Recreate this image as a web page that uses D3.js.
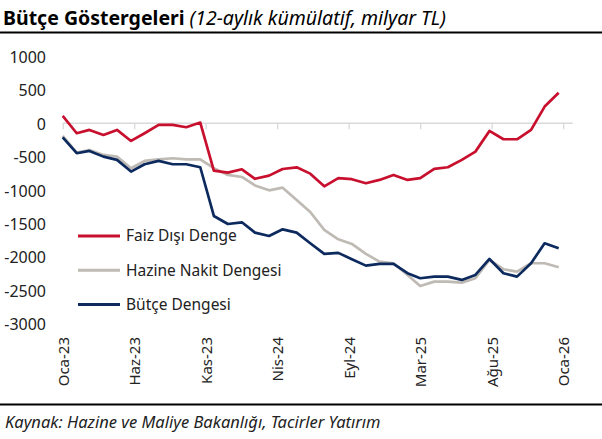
<!DOCTYPE html>
<html><head><meta charset="utf-8">
<script src="https://cdn.jsdelivr.net/npm/d3@7"></script>
<style>
html,body{margin:0;padding:0;background:#fff;}
svg{display:block;font-family:"Noto Sans","Open Sans",sans-serif;}
</style></head>
<body><svg id="c" width="602" height="439"></svg>
<script>
// ---- data ----
const startMonth = new Date(2023, 0, 1);
const endMonth = new Date(2026, 0, 1);
const faizDisiDenge = [110,-150,-100,-175,-100,-265,-150,-25,-25,-60,10,-710,-740,-690,-832,-785,-685,-660,-755,-945,-822,-838,-898,-849,-774,-849,-823,-684,-659,-549,-425,-115,-240,-240,-100,250,458];
const hazineNakitDengesi = [-190,-440,-400,-475,-500,-674,-565,-540,-524,-540,-540,-674,-774,-805,-932,-1005,-965,-1149,-1330,-1598,-1738,-1808,-1958,-2073,-2097,-2273,-2437,-2373,-2373,-2388,-2322,-2048,-2187,-2223,-2097,-2097,-2157];
const butceDengesi = [-210,-449,-414,-500,-549,-724,-614,-564,-614,-614,-659,-1389,-1509,-1484,-1639,-1689,-1589,-1639,-1798,-1958,-1942,-2037,-2133,-2108,-2108,-2247,-2322,-2298,-2298,-2347,-2272,-2033,-2247,-2298,-2097,-1798,-1873];
const seriesNames = ["Faiz Dışı Denge","Hazine Nakit Dengesi","Bütçe Dengesi"];
const seriesColors = ["#c8102e","#bfbab4","#0d2a5e"];
const yTicks = [1000,500,0,-500,-1000,-1500,-2000,-2500,-3000];
const xTickLabels = ["Oca-23","Haz-23","Kas-23","Nis-24","Eyl-24","Mar-25","Ağu-25","Oca-26"];
const xTickStepDays = 158;

const dates = d3.timeMonth.range(startMonth, d3.timeMonth.offset(endMonth,1));
const allSeries = [faizDisiDenge, hazineNakitDengesi, butceDengesi];

const svg = d3.select("#c");
svg.append("rect").attr("width",602).attr("height",439).attr("fill","#fff");

const x = d3.scaleTime().domain([startMonth, d3.timeMonth.offset(endMonth,1)]).range([62.7, 572.7]);
const y = d3.scaleLinear().domain([-3000, 1000]).range([323.5, 56.5]);
const tickDates = xTickLabels.map((_,k)=>d3.timeDay.offset(startMonth, xTickStepDays*k));

// title
const title = svg.append("text").attr("x",3).attr("y",25).attr("font-size",19.5).attr("fill","#000");
title.append("tspan").attr("font-weight","bold").text("Bütçe Göstergeleri");
title.append("tspan").attr("font-style","italic").attr("dx",5).text("(12-aylık kümülatif, milyar TL)");
svg.append("line").attr("x1",0).attr("x2",602).attr("y1",32.5).attr("y2",32.5).attr("stroke","#000").attr("stroke-width",2);

// y labels
svg.append("g").selectAll("text").data(yTicks).join("text")
  .attr("x",46).attr("y",d=>y(d)+1).attr("dy","0.35em").attr("text-anchor","end")
  .attr("font-size",16).attr("fill","#222").text(d=>d);

// x axis at zero
const xAxis = d3.axisBottom(x).tickValues(tickDates).tickSize(6).tickFormat("");
const gx = svg.append("g").attr("transform",`translate(0,${y(0)})`).call(xAxis);
gx.select(".domain").attr("stroke","#d9d9d9").attr("stroke-width",1.3).attr("d",`M${x.range()[0]},0H${x.range()[1]}`);
gx.selectAll(".tick line").attr("stroke","#d9d9d9").attr("stroke-width",1.3);

// x labels at bottom
svg.append("g").selectAll("text").data(tickDates).join("text")
  .attr("transform",d=>`translate(${x(d)+1},337) rotate(-90)`)
  .attr("dy","0.35em").attr("text-anchor","end").attr("font-size",15).attr("fill","#222")
  .text((d,i)=>xTickLabels[i]);

// lines
const line = d3.line().x((d,i)=>x(dates[i])).y(d=>y(d));
[1,2,0].forEach(k=>{
  svg.append("path").datum(allSeries[k]).attr("d",line).attr("fill","none")
    .attr("stroke",seriesColors[k]).attr("stroke-width",2.7).attr("stroke-linejoin","round");
});

// legend
const lg = svg.append("g");
seriesNames.forEach((n,k)=>{
  const ly = 236 + k*34.3;
  lg.append("line").attr("x1",78).attr("x2",120).attr("y1",ly).attr("y2",ly).attr("stroke",seriesColors[k]).attr("stroke-width",3);
  lg.append("text").attr("x",126).attr("y",ly).attr("dy","0.35em").attr("font-size",15.5).attr("fill","#222").text(n);
});

// footer
svg.append("line").attr("x1",0).attr("x2",602).attr("y1",404.5).attr("y2",404.5).attr("stroke","#000").attr("stroke-width",2);
svg.append("text").attr("x",5).attr("y",428).attr("font-size",16.5).attr("font-style","italic").attr("fill","#222")
  .text("Kaynak: Hazine ve Maliye Bakanlığı, Tacirler Yatırım");
</script></body></html>
